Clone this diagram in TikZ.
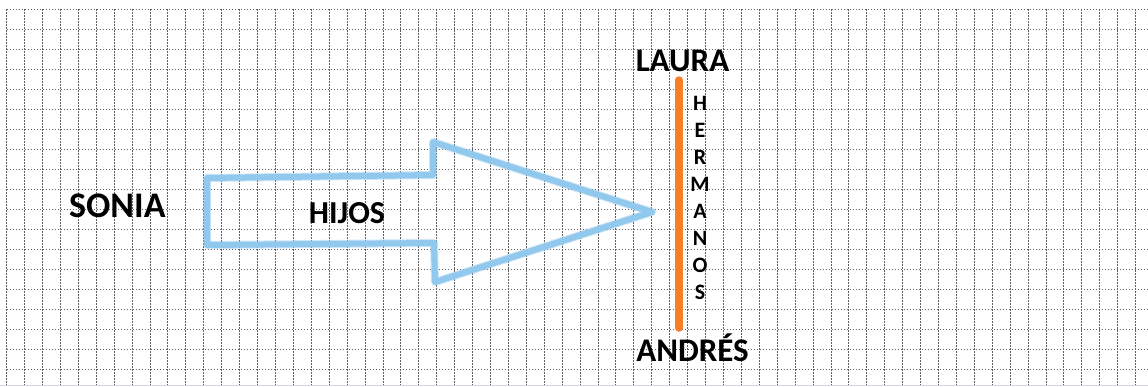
\documentclass[tikz,border=0pt]{standalone}
\usepackage{fontspec}
\setmainfont{Carlito}
\definecolor{gridgray}{rgb}{0.38,0.38,0.38}
\definecolor{arrowblue}{RGB}{145,200,237}
\definecolor{lineorange}{RGB}{247,128,38}
\definecolor{edgegray}{RGB}{210,215,225}
\tikzset{
  gridline/.style={draw=gridgray, line width=1pt, dash pattern=on 1.5pt off 1.5pt},
  lbl/.style={inner sep=0pt, anchor=base, font=\bfseries},
  letter/.style={inner sep=0pt, anchor=base, font=\bfseries\fontsize{22}{22}\selectfont},
  hollowarrow/.style={draw=arrowblue, line width=6pt, line join=round, line cap=round},
  sibline/.style={draw=lineorange, line width=7.5pt, line cap=round}
}
\begin{document}
\begin{tikzpicture}[x=1pt, y=-1pt]
\useasboundingbox (0,0) rectangle (1148,386);
\fill[white] (0,0) rectangle (1148,386);
% grid
\foreach \i in {0,...,63} {
  \draw[gridline] ({6.7+17.92*\i},9) -- ({6.7+17.92*\i},386);
}
\foreach \j in {0,...,18} {
  \draw[gridline] (6.7,{9+20*\j}) -- (1148,{9+20*\j});
}
\draw[edgegray, line width=1pt] (0,385.5) -- (1148,385.5);
% hollow arrow
\draw[hollowarrow, draw opacity=0.45, line width=8pt] (207,178) -- (433,175) -- (433,142) -- (652,212) -- (435,282) -- (434,243) -- (207,245) -- cycle;
\draw[hollowarrow] (207,178) -- (433,175) -- (433,142) -- (652,212) -- (435,282) -- (434,243) -- (207,245) -- cycle;
% labels
\node[lbl, font=\bfseries\fontsize{36}{36}\selectfont] (sonia) at (117.3,217) {SONIA};
\node[lbl, font=\bfseries\fontsize{32}{32}\selectfont] (hijos) at (347,223) {HIJOS};
\node[lbl, font=\bfseries\fontsize{33}{33}\selectfont] (laura) at (682.5,71.5) {LAURA};
\node[lbl, font=\bfseries\fontsize{33}{33}\selectfont] (andres) at (692.5,361) {ANDRÉS};
% sibling line
\coordinate (ltop) at (679,80);
\coordinate (lbot) at (679,328);
\draw[sibline] (ltop) -- (lbot);
% HERMANOS
\foreach \c [count=\k from 0] in {H,E,R,M,A,N,O,S} {
  \node[letter] (h\k) at (700,{110+27.1*\k}) {\c};
}
\end{tikzpicture}
\end{document}
